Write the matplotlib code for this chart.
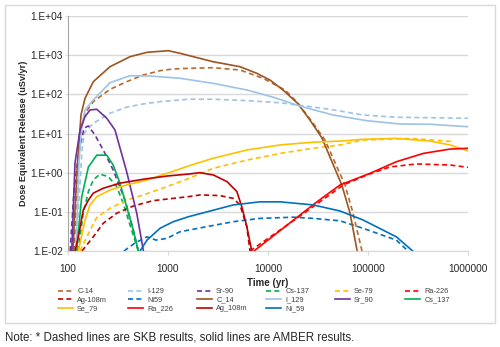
import numpy as np
import matplotlib
matplotlib.use("Agg")
import matplotlib.pyplot as plt
from matplotlib.patches import Rectangle
from matplotlib.ticker import FixedLocator, FuncFormatter, NullLocator

plt.rcParams['font.family'] = ['Liberation Sans', 'DejaVu Sans']

# SKB results (dashed)
c14_skb_t = [115, 126, 135, 148, 179, 263, 386, 567, 832, 1130, 1600, 2818, 5248, 8913, 14790, 20000, 28180, 37150, 58900, 70800, 87100]
c14_skb_v = [0.01, 2.1, 12.3, 33, 65, 134, 210, 312, 402, 444, 462, 479, 418, 257, 129, 59, 18.5, 6.8, 0.485, 0.093, 0.01]
i129_skb_t = [120, 129, 138, 145, 179, 263, 386, 567, 832, 1600, 2818, 6166, 13180, 41700, 89100, 190000, 1000000]
i129_skb_v = [0.01, 0.2, 3.8, 10.3, 18.2, 33, 47, 57, 65, 75, 75, 69, 61, 41.5, 29.7, 26, 24.5]
sr90_skb_t = [105, 115, 129, 145, 160, 186, 225, 283, 372, 450, 505]
sr90_skb_v = [0.01, 0.36, 3.8, 13.8, 15.6, 9.2, 3.8, 1.17, 0.2, 0.034, 0.01]
cs137_skb_t = [126, 142, 160, 179, 209, 253, 307, 357, 433, 505]
cs137_skb_v = [0.01, 0.092, 0.33, 0.65, 0.92, 0.79, 0.44, 0.165, 0.034, 0.01]
se79_skb_t = [132, 166, 194, 263, 386, 567, 832, 1479, 2818, 6166, 13180, 28180, 52500, 89100, 263000, 676000]
se79_skb_v = [0.01, 0.034, 0.072, 0.123, 0.2, 0.27, 0.38, 0.65, 1.29, 2.1, 3.1, 4.2, 5.1, 6.8, 7.5, 6.3]
ra226_skb_t = [6607, 20900, 56600, 100700, 166000, 305000, 660000, 1000000]
ra226_skb_v = [0.01, 0.078, 0.485, 0.9, 1.4, 1.67, 1.57, 1.37]
ag108m_skb_t = [138, 179, 225, 307, 450, 712, 1600, 2089, 3311, 4500, 5250, 6137, 6607]
ag108m_skb_v = [0.01, 0.023, 0.051, 0.092, 0.141, 0.193, 0.244, 0.27, 0.26, 0.22, 0.15, 0.042, 0.01]
ni59_skb_t = [363, 468, 617, 759, 977, 1318, 2460, 4500, 8318, 17900, 28380, 52500, 89100, 192000, 251000]
ni59_skb_v = [0.01, 0.016, 0.023, 0.019, 0.021, 0.031, 0.042, 0.056, 0.068, 0.073, 0.068, 0.059, 0.038, 0.019, 0.01]

# AMBER results (solid)
c14_amb_t = [112, 123, 135, 148, 179, 263, 417, 617, 1007, 1318, 2818, 5248, 7726, 10471, 14125, 19770, 26300, 34600, 54700, 66100, 77900]
c14_amb_v = [0.01, 1.17, 30, 79, 210, 508, 914, 1183, 1300, 1117, 681, 508, 344, 232, 129, 59, 22, 7.7, 0.485, 0.093, 0.01]
i129_amb_t = [120, 129, 138, 148, 179, 263, 417, 661, 1318, 2818, 6166, 11350, 20900, 44700, 97700, 208900, 416900, 1000000]
i129_amb_v = [0.01, 2.1, 16.5, 40, 72, 198, 299, 294, 257, 191, 129, 84, 50, 29.7, 21.2, 17.5, 17.2, 14.9]
sr90_amb_t = [109, 117.5, 132, 148, 166, 194, 244, 295, 386, 487, 568]
sr90_amb_v = [0.01, 1.77, 12.3, 26.9, 40, 41.5, 24.5, 12.3, 1.06, 0.092, 0.01]
cs137_amb_t = [122, 137, 160, 194, 244, 283, 331, 386, 450, 505]
cs137_amb_v = [0.01, 0.24, 1.4, 2.8, 2.8, 1.57, 0.54, 0.135, 0.034, 0.01]
se79_amb_t = [127, 148, 166, 194, 263, 386, 617, 977, 1600, 2818, 6166, 13180, 28180, 52500, 89100, 190000, 416900, 660000, 1000000]
se79_amb_v = [0.01, 0.062, 0.15, 0.244, 0.36, 0.485, 0.65, 0.96, 1.48, 2.33, 3.8, 5.1, 6.0, 6.4, 7.1, 7.5, 6.4, 5.1, 3.6]
ra226_amb_t = [7244, 29500, 52500, 104700, 192000, 357000, 660000, 1000000]
ra226_amb_v = [0.01, 0.165, 0.485, 0.96, 1.9, 3.1, 4.0, 4.2]
ag108m_amb_t = [117.5, 127, 142, 160, 179, 225, 331, 567, 977, 1600, 2089, 2851, 3890, 4880, 5470, 6137, 6880]
ag108m_amb_v = [0.01, 0.023, 0.111, 0.2, 0.3, 0.4, 0.54, 0.68, 0.82, 0.92, 1.0, 0.87, 0.59, 0.33, 0.135, 0.042, 0.01]
ni59_amb_t = [525, 617, 832, 1130, 1600, 2460, 4500, 8318, 13180, 28380, 52500, 89100, 192000, 280000]
ni59_amb_v = [0.01, 0.019, 0.038, 0.056, 0.075, 0.1, 0.15, 0.18, 0.18, 0.15, 0.105, 0.062, 0.023, 0.01]

x_ticks = [100, 1000, 10000, 100000, 1000000]
y_ticks = [1e-2, 1e-1, 1e0, 1e1, 1e2, 1e3, 1e4]

series = [
    ('C-14', c14_skb_t, c14_skb_v, '#B8692F', '--'),
    ('I-129', i129_skb_t, i129_skb_v, '#9DC3E6', '--'),
    ('Sr-90', sr90_skb_t, sr90_skb_v, '#7030A0', '--'),
    ('Cs-137', cs137_skb_t, cs137_skb_v, '#00B050', '--'),
    ('Se-79', se79_skb_t, se79_skb_v, '#FFC000', '--'),
    ('Ra-226', ra226_skb_t, ra226_skb_v, '#FF0000', '--'),
    ('Ag-108m', ag108m_skb_t, ag108m_skb_v, '#C00000', '--'),
    ('Ni59', ni59_skb_t, ni59_skb_v, '#0070C0', '--'),
    ('C_14', c14_amb_t, c14_amb_v, '#9C5421', '-'),
    ('I_129', i129_amb_t, i129_amb_v, '#9DC3E6', '-'),
    ('Sr_90', sr90_amb_t, sr90_amb_v, '#7030A0', '-'),
    ('Cs_137', cs137_amb_t, cs137_amb_v, '#00B050', '-'),
    ('Se_79', se79_amb_t, se79_amb_v, '#FFC000', '-'),
    ('Ra_226', ra226_amb_t, ra226_amb_v, '#FF0000', '-'),
    ('Ag_108m', ag108m_amb_t, ag108m_amb_v, '#C00000', '-'),
    ('Ni_59', ni59_amb_t, ni59_amb_v, '#0070C0', '-'),
]

W, H = 500, 347
fig = plt.figure(figsize=(W / 100, H / 100), dpi=100)
fig.patches.append(Rectangle((5 / W, 1 - 323 / H), 490 / W, 318 / H, transform=fig.transFigure,
                             fill=False, edgecolor='#D9D9D9', lw=1))
ax = fig.add_axes([68 / W, 1 - 251 / H, 400 / W, 235 / H])

handles = []
for name, t, v, color, ls in series:
    if ls == '--':
        line, = ax.plot(t, v, color=color, lw=1.2, linestyle=(0, (3, 2)))
    else:
        line, = ax.plot(t, v, color=color, lw=1.2)
    handles.append((line, name))

ax.set_xscale('log')
ax.set_yscale('log')
ax.set_xlim(100, 1000000)
ax.set_ylim(1e-2, 1e4)
ax.xaxis.set_major_locator(FixedLocator(x_ticks))
ax.yaxis.set_major_locator(FixedLocator(y_ticks))
ax.xaxis.set_minor_locator(NullLocator())
ax.yaxis.set_minor_locator(NullLocator())
ax.xaxis.set_major_formatter(FuncFormatter(lambda v, p: f"{int(round(v))}"))
ax.yaxis.set_major_formatter(FuncFormatter(lambda v, p: f"1.E{int(round(np.log10(v))):+03d}"))
ax.grid(axis='y', color='#D9D9D9', lw=1)
ax.set_axisbelow(True)
for s in ['top', 'right']:
    ax.spines[s].set_visible(False)
ax.spines['left'].set_color('#A6A6A6')
ax.spines['bottom'].set_color('#D9D9D9')
ax.tick_params(axis='x', length=3, color='#D9D9D9', pad=6, labelsize=7.3, labelcolor='#262626')
ax.tick_params(axis='y', length=2, color='#D9D9D9', pad=1.5, labelsize=7.3, labelcolor='#262626')
ax.set_xlabel('Time (yr)', fontsize=7, fontweight='bold', labelpad=3, color='#262626')
ax.set_ylabel('Dose Equivalent Release (uSv/yr)', fontsize=6.6, fontweight='bold', labelpad=2, color='#262626')

# legend: row-major order, one legend per column
col_x = [58, 128, 197, 266, 335, 405]
for c in range(6):
    items = handles[c::6]
    lg = fig.legend([h for h, n in items], [n for h, n in items], loc='upper left',
                    bbox_to_anchor=(col_x[c] / W, 1 - 288 / H), frameon=False, fontsize=5.3,
                    labelspacing=0.18, handlelength=2.0, handletextpad=0.6, borderpad=0,
                    borderaxespad=0)
    for txt in lg.get_texts():
        txt.set_color('#404040')

fig.text(5 / W, 1 - 337 / H, 'Note: * Dashed lines are SKB results, solid lines are AMBER results.',
         fontsize=8.3, va='center', ha='left', color='#262626')

fig.savefig('out.png', dpi=100)
